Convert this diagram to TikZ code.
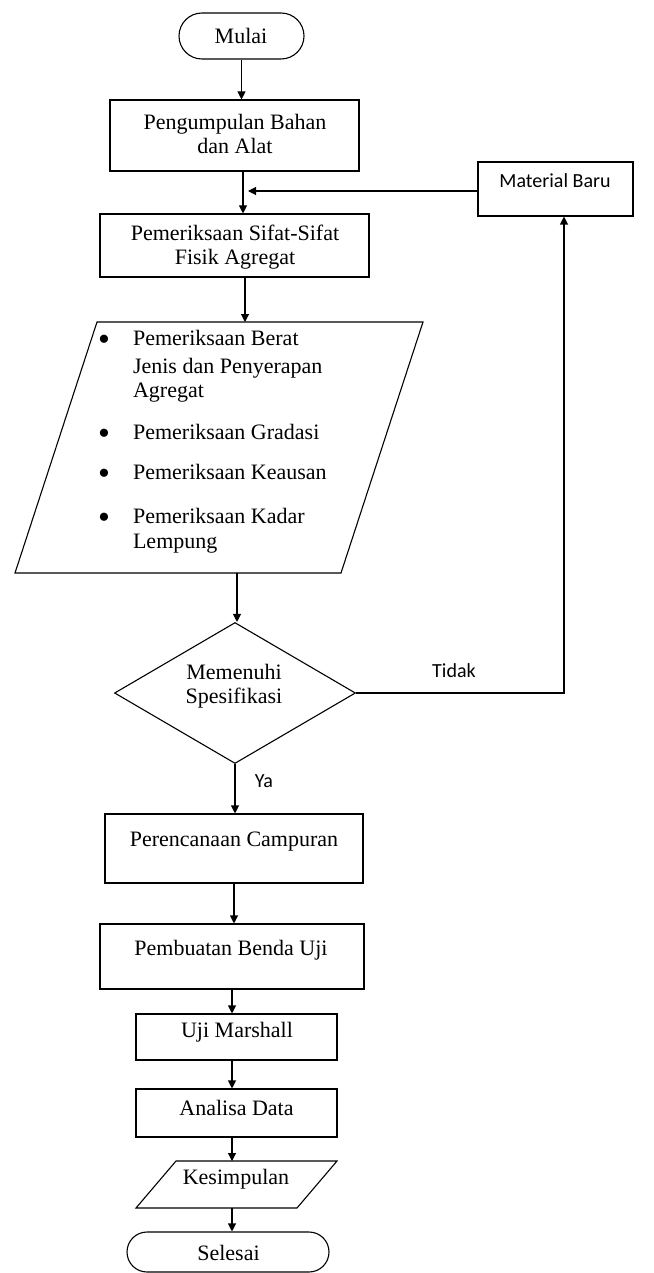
\documentclass[tikz,border=0pt]{standalone}
\usepackage{fontspec}
\setmainfont{Liberation Serif}
\newfontfamily\calfont{Carlito}
\usetikzlibrary{arrows.meta,shapes.geometric}
\begin{document}
\begin{tikzpicture}[x=1pt,y=-1pt,line width=1.1pt,
  box/.style={draw,inner sep=0pt},
  arr/.style={-{Triangle[length=8pt,width=8pt]}},
  txt/.style={font=\fontsize{22}{24}\selectfont,align=center,inner sep=0pt},
  itm/.style={font=\fontsize{22}{24}\selectfont,anchor=mid west,inner sep=0pt},
  bul/.style={font=\fontsize{34}{34}\selectfont,inner sep=0pt},
  lbl/.style={font=\calfont\fontsize{20}{24}\selectfont,inner sep=0pt}]
\useasboundingbox (0,0) rectangle (653,1273);

% nodes
\node[box,minimum width=125pt,minimum height=46pt,rounded corners=23pt] (mulai) at (241.5,36) {};
\node[txt] (mulaiT) at (241,36) {Mulai};
\node[box,minimum width=249pt,minimum height=71pt] (peng) at (234.5,135.5) {};
\node[txt] (pengT) at (235,134) {Pengumpulan Bahan\\dan Alat};
\node[box,minimum width=155pt,minimum height=54pt] (mat) at (555.5,189) {};
\node[lbl] (matT) at (555,181) {Material Baru};
\node[box,minimum width=269pt,minimum height=63pt] (sifat) at (234.5,245.5) {};
\node[txt] (sifatT) at (235,247) {Pemeriksaan Sifat-Sifat\\Fisik Agregat};

% parallelogram of tests
\coordinate (pTL) at (97,322);
\coordinate (pTR) at (423,322);
\coordinate (pBR) at (341,573);
\coordinate (pBL) at (15,573);
\draw (pTL) -- (pTR) -- (pBR) -- (pBL) -- cycle;
\foreach \yy [count=\i] in {343,437,477,521}{\node[bul] (b\i) at (104,\yy) {\textbullet};}
\node[itm] (t1) at (132.5,343) {Pemeriksaan Berat};
\node[itm] (t2) at (132.5,371) {Jenis dan Penyerapan};
\node[itm] (t3) at (132.5,395) {Agregat};
\node[itm] (t4) at (132.5,437) {Pemeriksaan Gradasi};
\node[itm] (t5) at (132.5,477) {Pemeriksaan Keausan};
\node[itm] (t6) at (132.5,521) {Pemeriksaan Kadar};
\node[itm] (t7) at (132.5,546) {Lempung};

\node[draw,diamond,inner sep=0pt,minimum width=241pt,minimum height=141pt] (dia) at (235,693) {};
\node[txt] (diaT) at (234,686) {Memenuhi\\Spesifikasi};

\node[box,minimum width=258pt,minimum height=69pt] (per) at (234,848.5) {};
\node[txt] (perT) at (234,842) {Perencanaan Campuran};
\node[box,minimum width=264pt,minimum height=65pt] (pemb) at (232,956.5) {};
\node[txt] (pembT) at (231,950) {Pembuatan Benda Uji};
\node[box,minimum width=201pt,minimum height=46pt] (uji) at (236.5,1037) {};
\node[txt] (ujiT) at (237,1032) {Uji Marshall};
\node[box,minimum width=201pt,minimum height=48pt] (anal) at (236.5,1113) {};
\node[txt] (analT) at (236.5,1108) {Analisa Data};

\coordinate (kTL) at (176,1161);
\coordinate (kTR) at (337,1161);
\coordinate (kBR) at (297,1208);
\coordinate (kBL) at (136,1208);
\draw (kTL) -- (kTR) -- (kBR) -- (kBL) -- cycle;
\node[txt] (kesT) at (236,1179) {Kesimpulan};

\node[box,minimum width=202pt,minimum height=40pt,rounded corners=20pt] (sel) at (228,1252) {};
\node[txt] (selT) at (228.5,1253) {Selesai};

% connectors
\coordinate (j1) at (243,191);
\coordinate (pt) at (245,322);
\coordinate (pb) at (237,573);
\coordinate (tk) at (564,693);
\coordinate (cx) at (232,0);
\draw[arr] (mulai.south) -- (mulai.south |- peng.north);
\draw[arr] (j1 |- peng.south) -- (j1 |- sifat.north);
\draw[arr] (mat.west |- j1) -- ([xshift=5pt]j1);
\draw[arr] (pt |- sifat.south) -- (pt);
\draw[arr] (pb) -- (pb |- dia.north);
\draw[arr] (dia.east) -- (tk) -- (tk |- mat.south);
\node[lbl] (tidak) at (454,671) {Tidak};
\draw[arr] (dia.south) -- (dia.south |- per.north);
\node[lbl] (ya) at (264,781) {Ya};
\draw[arr] (per.south) -- (per.south |- pemb.north);
\draw[arr] (pemb.south) -- (pemb.south |- uji.north);
\draw[arr] (cx |- uji.south) -- (cx |- anal.north);
\draw[arr] (cx |- anal.south) -- (cx |- kTL);
\draw[arr] (cx |- kBL) -- (cx |- sel.north);
\end{tikzpicture}
\end{document}
